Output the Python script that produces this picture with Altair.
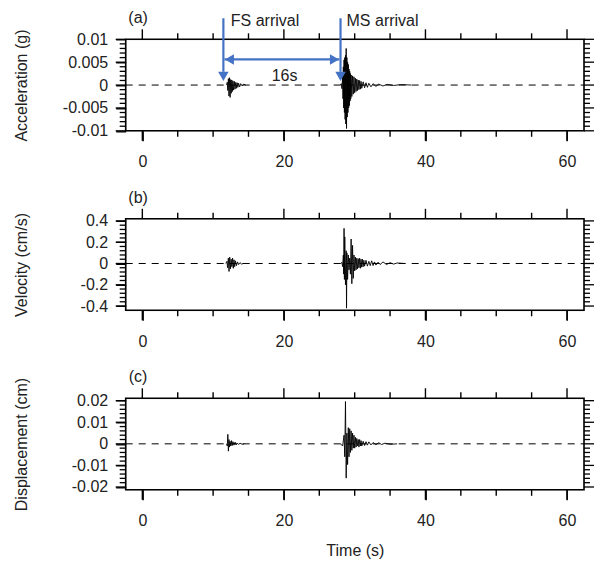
import altair as alt
import pandas as pd

# ---------------- data ----------------
X_DOMAIN = [-2.35, 62.4]
X_MAJOR = [0, 20, 40, 60]
X_MINOR = [5, 10, 15, 25, 30, 35, 45, 50, 55]

# (a) acceleration (g)
acc_fs_t = [11.9, 12.0, 12.08, 12.16, 12.24, 12.32, 12.4, 12.48, 12.56, 12.64, 12.72, 12.8, 12.9,
            13.0, 13.1, 13.2, 13.3, 13.4, 13.5, 13.6, 13.75, 13.9, 14.1, 14.3, 14.6]
acc_fs_v = [0, 0.0006, -0.0012, 0.0014, -0.0024, 0.0016, -0.0027, 0.0012, -0.0018, 0.0011, -0.0014,
            0.0009, -0.0011, 0.0008, -0.0009, 0.0006, -0.0007, 0.0005, -0.0005, 0.0004, -0.0004,
            0.0003, -0.0002, 0.0002, 0]
acc_ms_t = [28.0, 28.1, 28.2, 28.3, 28.35, 28.4, 28.45, 28.5, 28.55, 28.6, 28.65, 28.7, 28.75, 28.8,
            28.85, 28.9, 28.95, 29.0, 29.05, 29.1, 29.15, 29.2, 29.25, 29.3, 29.35, 29.4, 29.45, 29.5,
            29.6, 29.7, 29.8, 29.9, 30.0, 30.1, 30.2, 30.3, 30.4, 30.5, 30.6, 30.7, 30.8, 30.9, 31.0,
            31.2, 31.4, 31.6, 31.8, 32.0, 32.3, 32.6, 33.0, 33.4, 34.0, 34.6, 35.5, 36.5, 38.0]
acc_ms_v = [0, 0.0003, -0.0008, 0.002, -0.003, 0.004, -0.005, 0.0055, -0.006, 0.006, -0.0075, 0.0065,
            -0.0085, 0.008, -0.0095, 0.006, -0.007, 0.005, -0.006, 0.0045, -0.005, 0.0035, -0.0045,
            0.003, -0.0035, 0.0025, -0.003, 0.0022, -0.0025, 0.002, -0.002, 0.0018, -0.0017, 0.0015,
            -0.0014, 0.0013, -0.0012, 0.0011, -0.001, 0.001, -0.0009, 0.0008, -0.0007, 0.0007, -0.0006,
            0.0005, -0.0005, 0.0004, -0.0004, 0.0003, -0.0003, 0.0002, -0.0002, 0.00015, -0.0001,
            0.0001, 0]

# (b) velocity (cm/s)
vel_fs_t = [11.8, 11.95, 12.05, 12.15, 12.25, 12.35, 12.45, 12.55, 12.65, 12.75, 12.85, 12.95, 13.05,
            13.15, 13.3, 13.45, 13.6, 13.8, 14.0, 14.3]
vel_fs_v = [0, 0.02, -0.04, 0.05, -0.075, 0.06, -0.05, 0.04, -0.03, 0.05, -0.045, 0.035, -0.03, 0.025,
            -0.02, 0.015, -0.01, 0.008, -0.005, 0]
vel_ms_t = [28.0, 28.2, 28.3, 28.4, 28.45, 28.5, 28.55, 28.6, 28.7, 28.8, 28.85, 28.9, 29.0, 29.1,
            29.2, 29.3, 29.4, 29.5, 29.6, 29.7, 29.8, 29.9, 30.0, 30.1, 30.2, 30.3, 30.4, 30.5, 30.6,
            30.7, 30.8, 30.9, 31.0, 31.1, 31.2, 31.3, 31.4, 31.6, 31.8, 32.0, 32.2, 32.4, 32.6, 32.8,
            33.0, 33.3, 33.6, 34.0, 34.5, 35.0, 35.5, 36.0, 37.0]
vel_ms_v = [0, 0.01, -0.03, 0.08, -0.1, 0.33, -0.15, 0.25, -0.2, 0.12, -0.42, 0.1, -0.15, 0.08, -0.06,
            0.05, -0.1, 0.23, -0.19, 0.17, -0.14, 0.08, -0.07, 0.06, -0.06, 0.05, -0.05, 0.045, -0.04,
            0.05, -0.045, 0.04, -0.035, 0.04, -0.03, 0.03, -0.025, 0.03, -0.025, 0.02, -0.02, 0.025,
            -0.02, 0.015, -0.015, 0.012, -0.01, 0.015, -0.01, 0.008, -0.006, 0.005, 0]

# (c) displacement (cm)
dis_fs_t = [11.9, 12.0, 12.08, 12.16, 12.24, 12.32, 12.4, 12.5, 12.6, 12.7, 12.8, 12.95, 13.1, 13.25,
            13.4, 13.6, 13.8, 14.1, 14.4]
dis_fs_v = [0, -0.001, 0.0044, -0.0034, 0.002, -0.0015, 0.0012, -0.001, 0.0015, -0.0008, 0.001,
            -0.0006, 0.0008, -0.0005, 0.0004, -0.0003, 0.0003, -0.0002, 0]
dis_ms_t = [28.0, 28.3, 28.5, 28.6, 28.7, 28.8, 28.9, 29.0, 29.1, 29.2, 29.3, 29.4, 29.5, 29.6, 29.7,
            29.8, 29.9, 30.0, 30.1, 30.2, 30.3, 30.4, 30.5, 30.6, 30.7, 30.8, 30.9, 31.0, 31.2, 31.4,
            31.6, 31.8, 32.0, 32.3, 32.6, 33.0, 33.4, 33.8, 34.3, 35.0, 36.0]
dis_ms_v = [0, -0.001, 0.004, -0.006, 0.0196, -0.0159, 0.005, -0.0096, 0.0075, -0.006, 0.007, -0.004,
            0.006, -0.003, 0.005, -0.002, 0.004, -0.002, 0.003, -0.0015, 0.0025, -0.001, 0.002,
            -0.0015, 0.002, -0.001, 0.0015, -0.001, 0.0012, -0.0008, 0.001, -0.0006, 0.0009, -0.0005,
            0.0006, -0.0004, 0.0005, -0.0003, 0.0003, -0.0002, 0]

# annotations (panel a)
FS_ARRIVAL = 11.45
MS_ARRIVAL = 28.0
ARROW_TOP = 0.0146
ARROW_HEAD_Y = 0.0019
SPAN_Y = 0.0056
ann_labels = ["FS arrival", "MS arrival", "16s"]
ann_x = [12.5, 28.85, 20.1]
ann_y = [0.0140, 0.0140, 0.0019]
ann_align = ["left", "left", "center"]

BLUE = "#4472C4"
FONT = "Liberation Sans"
TXT = "#222222"
W, H = 458.3, 91.5
SPACING = 87.5
PAD_L, PAD_T = 125.7, 39.3
MAJ_LEN, MIN_LEN = 10, 6


def wave_df(fs_t, fs_v, ms_t, ms_v):
    a = pd.DataFrame({"t": fs_t, "v": fs_v})
    a["seg"] = "FS"
    b = pd.DataFrame({"t": ms_t, "v": ms_v})
    b["seg"] = "MS"
    return pd.concat([a, b], ignore_index=True)


def split_ticks(step, n, major_every):
    major, minor = [], []
    for k in range(-n, n + 1):
        v = round(k * step, 6)
        (major if k % major_every == 0 else minor).append(v)
    return major, minor


def panel(df, ydom, ystep, ytitle, tag, extra=(), xtitle=None):
    ymaj, ymin = split_ticks(ystep, 10, 5)
    xs = alt.Scale(domain=X_DOMAIN, nice=False, zero=False)
    ys = alt.Scale(domain=ydom, nice=False, zero=False)
    base = dict(domain=False, grid=False, tickColor="black", tickWidth=1.4,
                labelFont=FONT, labelFontSize=16, labelColor=TXT)
    bx = dict(base, orient="bottom", values=X_MAJOR, tickSize=MAJ_LEN, labelPadding=13)
    if xtitle:
        bx.update(title=xtitle, titleFont=FONT, titleFontSize=16, titleColor=TXT,
                  titleFontWeight="normal", titleBaseline="middle", titleY=61)
    else:
        bx.update(title=None)
    ax_bottom = alt.Axis(**bx)
    ax_left = alt.Axis(**dict(base, orient="left", values=ymaj, tickSize=MAJ_LEN, labelPadding=8,
                              labelExpr="'' + datum.value",
                              title=ytitle, titleFont=FONT, titleFontSize=16, titleColor=TXT,
                              titleFontWeight="normal", titleX=-96, titleAngle=270,
                              titleBaseline="bottom"))

    box_df = pd.DataFrame({"x0": [X_DOMAIN[0]], "x1": [X_DOMAIN[1]],
                           "y0": [ydom[0]], "y1": [ydom[1]]})
    frame = alt.Chart(box_df).mark_rect(fillOpacity=0, stroke="black", strokeWidth=1.6).encode(
        x=alt.X("x0:Q", scale=xs, axis=None), x2="x1:Q",
        y=alt.Y("y0:Q", scale=ys, axis=None), y2="y1:Q")
    zero_df = pd.DataFrame({"x0": [X_DOMAIN[0]], "x1": [X_DOMAIN[1]], "y": [0.0]})
    zero = alt.Chart(zero_df).mark_rule(color="black", strokeWidth=1, strokeDash=[7, 6]).encode(
        x=alt.X("x0:Q", scale=xs, axis=None), x2="x1:Q",
        y=alt.Y("y:Q", scale=ys, axis=None))
    wave = alt.Chart(df).mark_line(color="black", strokeWidth=0.9).encode(
        x=alt.X("t:Q", scale=xs, axis=ax_bottom),
        y=alt.Y("v:Q", scale=ys, axis=ax_left),
        detail="seg:N", order="t:Q")

    # tick marks on all four sides (major long, minor short)
    tick_layers = []
    for vals, ln in ((X_MAJOR, MAJ_LEN), (X_MINOR, MIN_LEN)):
        d = pd.DataFrame({"t": vals})
        for y_a, y_b in ((H, H + ln), (0, -ln)):
            tick_layers.append(alt.Chart(d).mark_rule(color="black", strokeWidth=1.4).encode(
                x=alt.X("t:Q", scale=xs, axis=None), y=alt.value(y_a), y2=alt.value(y_b)))
    for vals, ln in ((ymaj, MAJ_LEN), (ymin, MIN_LEN)):
        d = pd.DataFrame({"v": vals})
        for x_a, x_b in ((0, -ln), (W, W + ln)):
            tick_layers.append(alt.Chart(d).mark_rule(color="black", strokeWidth=1.3).encode(
                y=alt.Y("v:Q", scale=ys, axis=None), x=alt.value(x_a), x2=alt.value(x_b)))

    tag_df = pd.DataFrame({"t": [-0.6], "label": [tag]})
    tagc = alt.Chart(tag_df).mark_text(font=FONT, fontSize=16, color=TXT).encode(
        x=alt.X("t:Q", scale=xs, axis=None), y=alt.value(-21), text="label:N")
    layers = [zero, wave, frame] + tick_layers + [tagc] + [e(xs, ys) for e in extra]
    return alt.layer(*layers).resolve_axis(x="independent", y="independent").properties(
        width=W, height=H)


def annotations(xs, ys):
    lines = pd.DataFrame({
        "x0": [FS_ARRIVAL, MS_ARRIVAL, FS_ARRIVAL + 0.15],
        "x1": [FS_ARRIVAL, MS_ARRIVAL, MS_ARRIVAL - 0.15],
        "y0": [ARROW_TOP, ARROW_TOP, SPAN_Y],
        "y1": [ARROW_HEAD_Y + 0.001, ARROW_HEAD_Y + 0.001, SPAN_Y],
    })
    rules = alt.Chart(lines).mark_rule(color=BLUE, strokeWidth=2.2).encode(
        x=alt.X("x0:Q", scale=xs, axis=None), x2="x1:Q",
        y=alt.Y("y0:Q", scale=ys, axis=None), y2="y1:Q")
    heads = pd.DataFrame({
        "x": [FS_ARRIVAL, MS_ARRIVAL, FS_ARRIVAL + 0.85, MS_ARRIVAL - 0.85],
        "y": [ARROW_HEAD_Y, ARROW_HEAD_Y, SPAN_Y, SPAN_Y],
        "shape": ["triangle-down", "triangle-down", "triangle-left", "triangle-right"],
    })
    pts = alt.Chart(heads).mark_point(filled=True, color=BLUE, opacity=1, size=110).encode(
        x=alt.X("x:Q", scale=xs, axis=None), y=alt.Y("y:Q", scale=ys, axis=None),
        shape=alt.Shape("shape:N", scale=None))
    tdf = pd.DataFrame({"x": ann_x, "y": ann_y, "label": ann_labels, "align": ann_align})
    t1 = alt.Chart(tdf[tdf["align"] == "left"]).mark_text(
        font=FONT, fontSize=16, color=TXT, align="left").encode(
        x=alt.X("x:Q", scale=xs, axis=None), y=alt.Y("y:Q", scale=ys, axis=None), text="label:N")
    t2 = alt.Chart(tdf[tdf["align"] == "center"]).mark_text(
        font=FONT, fontSize=16, color=TXT, align="center").encode(
        x=alt.X("x:Q", scale=xs, axis=None), y=alt.Y("y:Q", scale=ys, axis=None), text="label:N")
    return alt.layer(rules, pts, t1, t2)


pa = panel(wave_df(acc_fs_t, acc_fs_v, acc_ms_t, acc_ms_v), [-0.01, 0.01], 0.001,
           "Acceleration (g)", "(a)", extra=(annotations,))
pb = panel(wave_df(vel_fs_t, vel_fs_v, vel_ms_t, vel_ms_v), [-0.44, 0.42], 0.04,
           "Velocity (cm/s)", "(b)")
pc = panel(wave_df(dis_fs_t, dis_fs_v, dis_ms_t, dis_ms_v), [-0.0213, 0.0211], 0.002,
           "Displacement (cm)", "(c)", xtitle="Time (s)")

chart = alt.vconcat(pa, pb, pc, spacing=SPACING, bounds="flush").properties(
    autosize=alt.AutoSizeParams(type="none"),
    padding={"left": PAD_L, "top": PAD_T, "right": 599 - PAD_L - W, "bottom": 565 - PAD_T},
).configure_view(stroke="black", strokeWidth=1.6).configure(font=FONT)

chart.save("out.html", embed_options={"renderer": "svg", "actions": False})
